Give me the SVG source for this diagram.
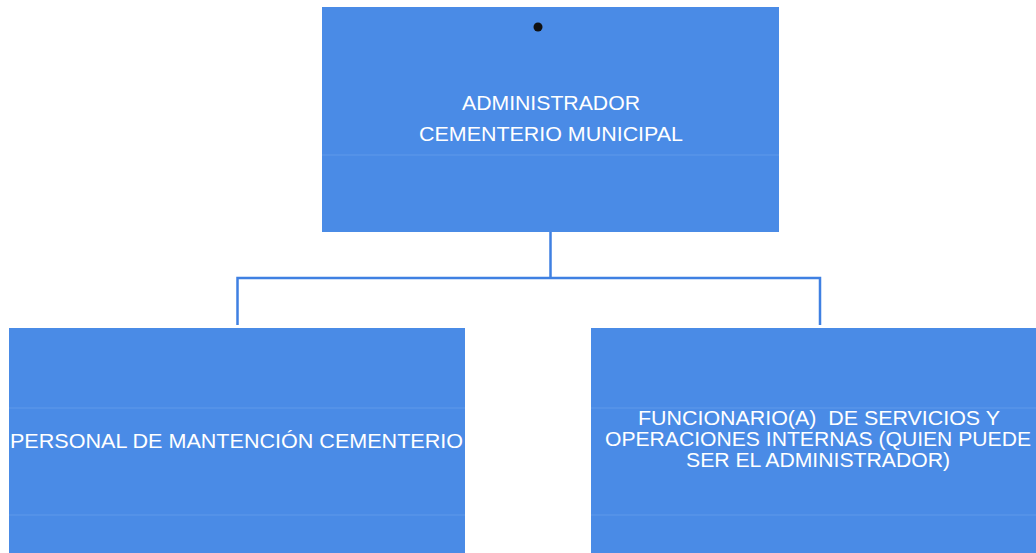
<svg xmlns="http://www.w3.org/2000/svg" width="1036" height="553" viewBox="0 0 1036 553">
<style>
.box{fill:#4a8be6}
.seam{stroke:#7fb0f2;stroke-width:1;opacity:0.4}
.lbl{font-family:"Liberation Sans",Arial,sans-serif;font-size:21px;fill:#ffffff;text-anchor:middle}
.conn{fill:none;stroke:#3f80e2;stroke-width:2.5}
</style>
<rect width="1036" height="553" fill="#ffffff"/>
<g id="connectors">
<path class="conn" d="M550.5 232 V278 M237.5 325 V278 H820 V325"/>
</g>
<g id="admin">
<rect class="box" x="322" y="7" width="457" height="225"/>
<line class="seam" x1="322" y1="155" x2="779" y2="155"/>
<circle cx="538" cy="27" r="4.5" fill="#111111"/>
<text class="lbl" x="551" y="110" textLength="178" lengthAdjust="spacingAndGlyphs">ADMINISTRADOR</text>
<text class="lbl" x="551" y="141" textLength="264" lengthAdjust="spacingAndGlyphs">CEMENTERIO MUNICIPAL</text>
</g>
<g id="personal">
<rect class="box" x="9" y="328" width="456" height="225"/>
<line class="seam" x1="9" y1="408" x2="465" y2="408"/>
<line class="seam" x1="9" y1="515" x2="465" y2="515"/>
<text class="lbl" x="236.5" y="448" textLength="453" lengthAdjust="spacingAndGlyphs">PERSONAL DE MANTENCIÓN CEMENTERIO</text>
</g>
<g id="funcionario">
<rect class="box" x="591" y="328" width="445" height="225"/>
<line class="seam" x1="591" y1="408" x2="1036" y2="408"/>
<line class="seam" x1="591" y1="515" x2="1036" y2="515"/>
<text class="lbl" x="819" y="425" textLength="362" lengthAdjust="spacingAndGlyphs">FUNCIONARIO(A)&#160; DE SERVICIOS Y</text>
<text class="lbl" x="818" y="446" textLength="426" lengthAdjust="spacingAndGlyphs">OPERACIONES INTERNAS (QUIEN PUEDE</text>
<text class="lbl" x="818" y="467" textLength="264" lengthAdjust="spacingAndGlyphs">SER EL ADMINISTRADOR)</text>
</g>
</svg>
